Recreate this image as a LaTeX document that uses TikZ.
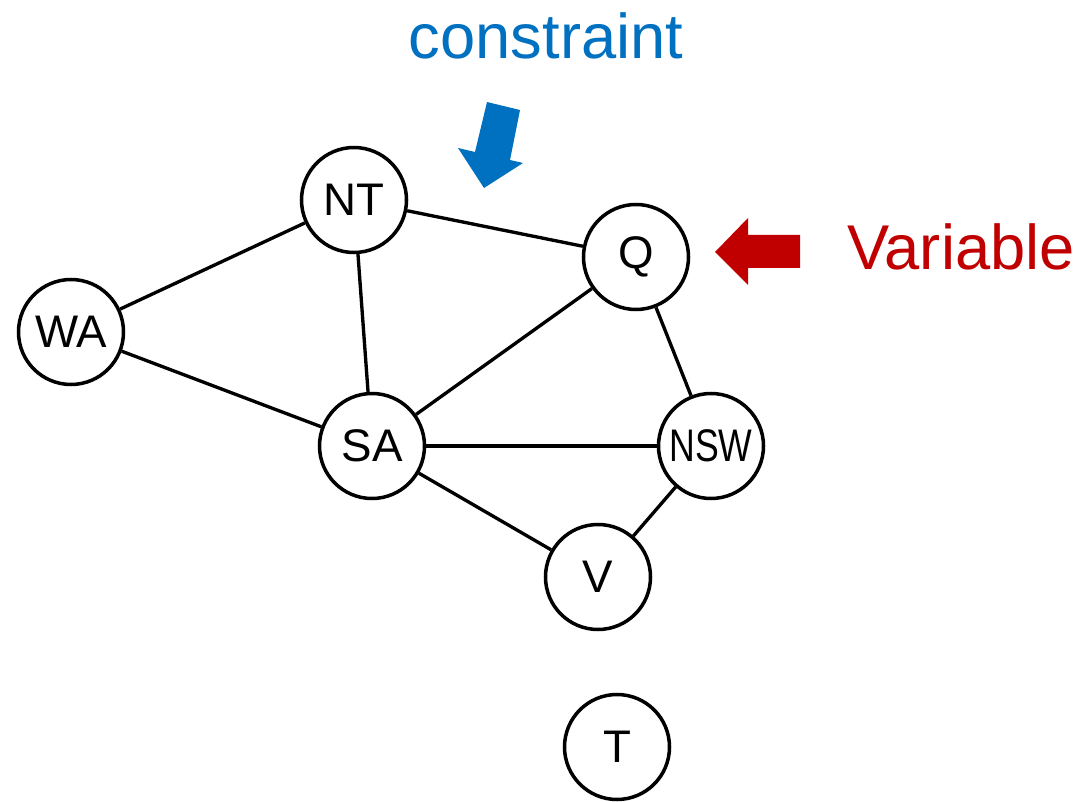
\documentclass[tikz,border=0pt]{standalone}
\usepackage{fontspec}
\setmainfont{Liberation Sans}
\definecolor{cblue}{HTML}{0070C0}
\definecolor{cred}{HTML}{C00000}
\begin{document}
\begin{tikzpicture}[x=0.1mm,y=-0.1mm,
    var/.style={draw,circle,line width=1pt,minimum size=10.5mm,inner sep=0pt,
      font=\fontsize{13}{15}\selectfont},
    edge/.style={line width=0.95pt}]
  \useasboundingbox (0,0) rectangle (1084,802);

  \node[var] (NT)  at (354,200) {NT};
  \node[var] (Q)   at (636,257) {Q};
  \node[var] (WA)  at (71,332)  {WA};
  \node[var] (SA)  at (372,446) {SA};
  \node[var] (NSW) at (711,446) {\scalebox{0.78}[1]{NSW}};
  \node[var] (V)   at (598,577) {V};
  \node[var] (T)   at (617,747) {T};

  \foreach \a/\b in {NT/WA,NT/Q,NT/SA,WA/SA,SA/Q,SA/V,Q/NSW,NSW/V}
    \draw[edge] (\a) -- (\b);
  \draw[line width=1.2pt] (SA) -- (NSW);

  % labels
  \node[cblue,font=\fontsize{18}{20}\selectfont] (constr) at (546,36) {constraint};
  \node[cred,font=\fontsize{18}{20}\selectfont] (varlab) at (961,247) {Variable};

  \fill[cblue] (487,102) -- (520,110) -- (510,160) -- (523,163) -- (484,188)
    -- (458,148) -- (475,152) -- cycle;
  \fill[cred] (800,235) -- (748,235) -- (748,218) -- (715,252) -- (748,285)
    -- (748,268) -- (800,268) -- cycle;
\end{tikzpicture}
\end{document}
